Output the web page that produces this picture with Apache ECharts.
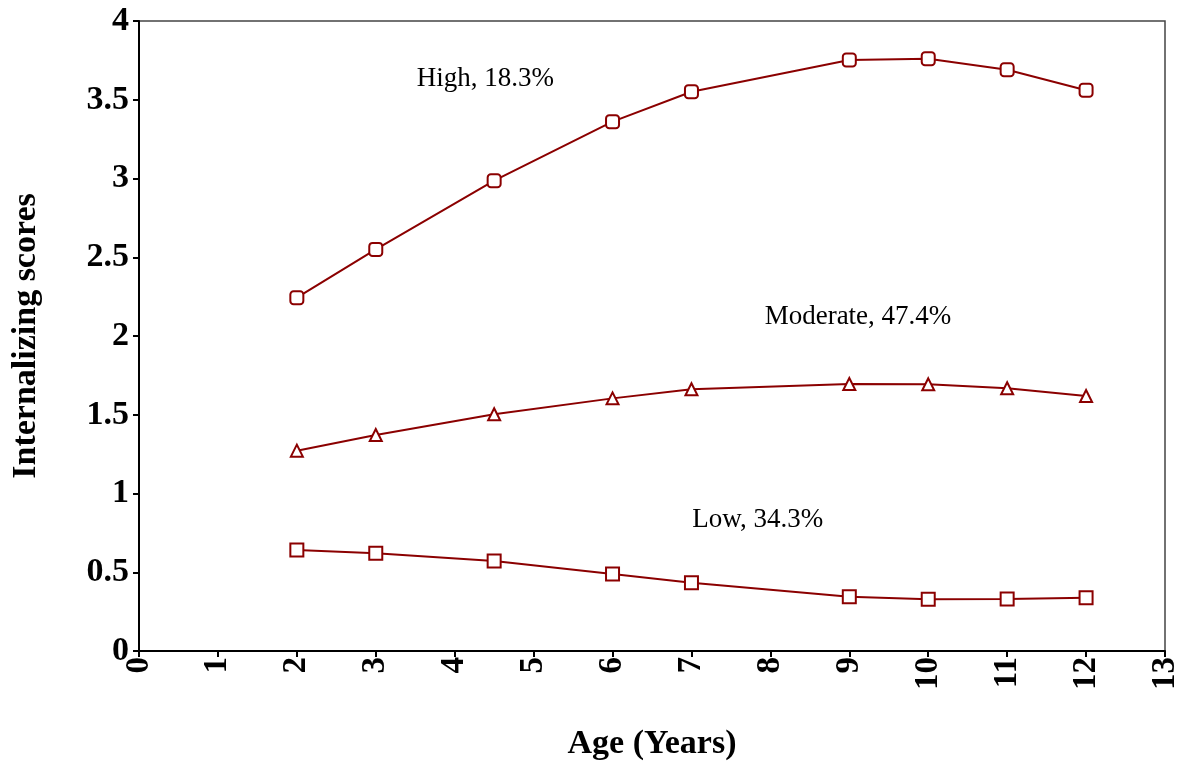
<!DOCTYPE html>
<html>
<head>
<meta charset="utf-8">
<script src="https://cdn.jsdelivr.net/npm/echarts@6/dist/echarts.min.js"></script>
<style>html,body{margin:0;padding:0;background:#fff;}#c{width:1179px;height:763px;}</style>
</head>
<body>
<div id="c"></div>
<script>
var ages = [2, 3, 4.5, 6, 7, 9, 10, 11, 12];
var highScores = [2.243, 2.55, 2.986, 3.361, 3.551, 3.752, 3.76, 3.69, 3.56];
var moderateScores = [1.272, 1.371, 1.503, 1.604, 1.662, 1.695, 1.693, 1.668, 1.619];
var lowScores = [0.641, 0.62, 0.571, 0.489, 0.434, 0.345, 0.328, 0.330, 0.338];
var groupLabels = ['High, 18.3%', 'Moderate, 47.4%', 'Low, 34.3%'];
var labelCoords = [[4.39, 3.63], [9.11, 2.12], [7.84, 0.83]];

var FONT = '"Liberation Serif", "Times New Roman", serif';
var RED = '#8B0000';

function pairs(ys) { return ages.map(function (a, i) { return [a, ys[i]]; }); }

function makeSeries(name, ys, symbol, size, idx) {
  return {
    name: name,
    type: 'line',
    data: pairs(ys),
    symbol: symbol,
    symbolSize: size,
    showAllSymbol: true,
    lineStyle: { color: RED, width: 2 },
    itemStyle: { color: '#fff', borderColor: RED, borderWidth: 2 },
    z: 3,
    markPoint: {
      symbol: 'circle',
      symbolSize: 0,
      silent: true,
      data: [{
        coord: labelCoords[idx],
        label: {
          show: true,
          position: 'inside',
          formatter: groupLabels[idx],
          color: '#000',
          fontFamily: FONT,
          fontSize: 27,
          fontWeight: 'normal'
        }
      }]
    }
  };
}

var chart = echarts.init(document.getElementById('c'), null, { renderer: 'canvas' });
chart.setOption({
  animation: false,
  backgroundColor: '#fff',
  grid: { left: 139, top: 21, right: 14, bottom: 112, outerBoundsMode: 'none', containLabel: false, show: true, borderColor: '#444', borderWidth: 1.5, backgroundColor: 'transparent' },
  xAxis: {
    type: 'value', min: 0, max: 13, interval: 1,
    name: 'Age (Years)', nameLocation: 'middle', nameGap: 76,
    nameTextStyle: { fontFamily: FONT, fontSize: 34, fontWeight: 'bold', color: '#000' },
    axisLine: { show: true, onZero: false, lineStyle: { color: '#000', width: 2 } },
    axisTick: { show: true, length: 6, lineStyle: { color: '#000', width: 2 } },
    axisLabel: { rotate: 90, margin: 6, fontFamily: FONT, fontSize: 33, fontWeight: 'bold', color: '#000' },
    splitLine: { show: false }
  },
  yAxis: {
    type: 'value', min: 0, max: 4, interval: 0.5,
    name: 'Internalizing scores', nameLocation: 'middle', nameGap: 96, nameRotate: 90,
    nameTextStyle: { fontFamily: FONT, fontSize: 34, fontWeight: 'bold', color: '#000' },
    axisLine: { show: true, onZero: false, lineStyle: { color: '#000', width: 2 } },
    axisTick: { show: true, length: 6, lineStyle: { color: '#000', width: 2 } },
    axisLabel: { margin: 10, fontFamily: FONT, fontSize: 34, fontWeight: 'bold', color: '#000' },
    splitLine: { show: false }
  },
  series: [
    makeSeries('High', highScores, 'roundRect', 13, 0),
    makeSeries('Moderate', moderateScores, 'triangle', 12, 1),
    makeSeries('Low', lowScores, 'rect', 13, 2)
  ]
});
</script>
</body>
</html>
